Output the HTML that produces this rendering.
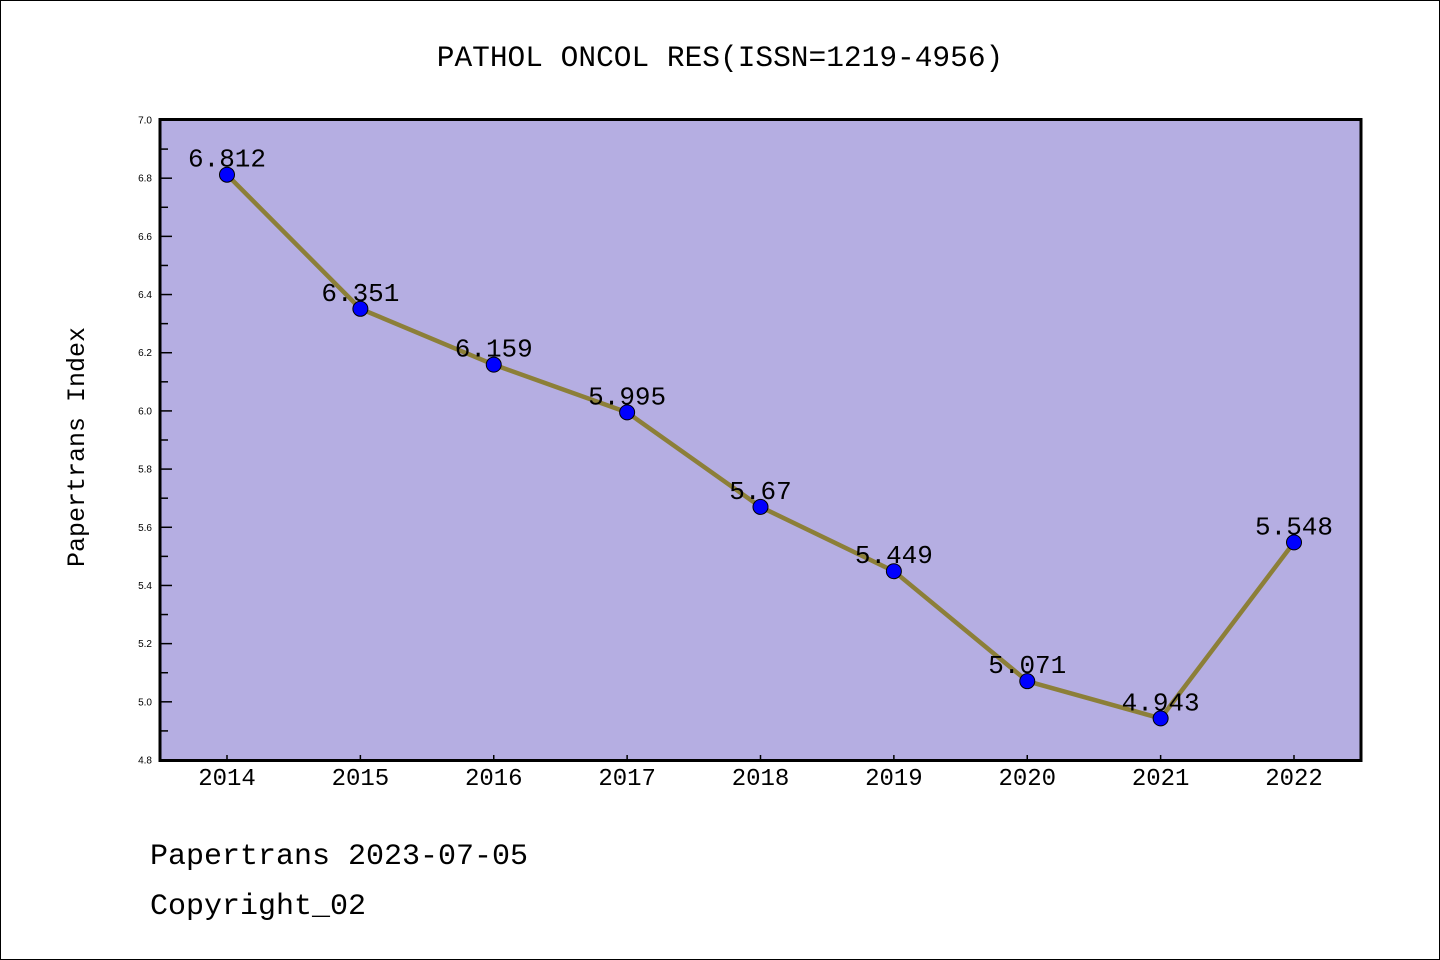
<!DOCTYPE html>
<html><head><meta charset="utf-8"><style>
html,body{margin:0;padding:0;background:#fff}
svg{display:block;font-family:"Liberation Mono",monospace}
</style></head><body>
<svg id="c" width="1440" height="960" viewBox="0 0 1440 960">
<rect x="0.5" y="0.5" width="1439" height="959" fill="#fff" stroke="#000"/>
<text x="720" y="66" text-anchor="middle" font-size="29.5">PATHOL ONCOL RES(ISSN=1219-4956)</text>
<rect x="160" y="119.5" width="1201" height="641" fill="#b5aee2"/>
<g id="axes"></g>
<g id="series"></g>
<rect x="160" y="119.5" width="1201" height="641" fill="none" stroke="#000" stroke-width="3"/>
<text transform="translate(84,447) rotate(-90)" text-anchor="middle" font-size="25">Papertrans Index</text>
<text x="150" y="864" font-size="30">Papertrans 2023-07-05</text>
<text x="150" y="914" font-size="30">Copyright_02</text>
</svg>
<script>
const years = [2014,2015,2016,2017,2018,2019,2020,2021,2022];
const values = [6.812,6.351,6.159,5.995,5.67,5.449,5.071,4.943,5.548];
const valueLabels = ["6.812","6.351","6.159","5.995","5.67","5.449","5.071","4.943","5.548"];
const yTicks = [4.8,5.0,5.2,5.4,5.6,5.8,6.0,6.2,6.4,6.6,6.8,7.0];
const yMinor = [4.9,5.1,5.3,5.5,5.7,5.9,6.1,6.3,6.5,6.7,6.9];
const NS='http://www.w3.org/2000/svg';
function X(i){return 227+(1294-227)*i/(years.length-1);}
function Y(v){return 760-(v-4.8)/(7.0-4.8)*640;}
function mk(t,a,p){const e=document.createElementNS(NS,t);for(const k in a)e.setAttribute(k,a[k]);p.appendChild(e);return e;}
const ax=document.getElementById('axes'), se=document.getElementById('series');
yTicks.forEach(v=>{
  const l=mk('line',{x1:160,x2:172,y1:Y(v),y2:Y(v),stroke:'#000','stroke-width':1.5},ax);
  
  
  const t=mk('text',{x:152,y:Y(v)+3.5,'text-anchor':'end','font-size':10,'font-family':'Liberation Sans, sans-serif'},ax);
  t.textContent=v.toFixed(1);
  
  
});
yMinor.forEach(v=>{
  const l=mk('line',{x1:160,x2:168,y1:Y(v),y2:Y(v),stroke:'#000','stroke-width':1.5},ax);
  
  
});
years.forEach((y,i)=>{
  const l=mk('line',{x1:X(i),x2:X(i),y1:760,y2:755,stroke:'#000','stroke-width':1.5},ax);
  
  
  const t=mk('text',{x:X(i),y:785,'text-anchor':'middle','font-size':24},ax);
  t.textContent=y;
  
  
});
const pl=mk('polyline',{points:values.map((v,i)=>X(i)+','+Y(v)).join(' '),fill:'none',stroke:'#8c7f38','stroke-width':4.5,'stroke-linejoin':'round'},se);


values.forEach((v,i)=>{
  const c=mk('circle',{cx:X(i),cy:Y(v),r:7.5,fill:'#0000ff',stroke:'#000','stroke-width':1},se);
  
  
  const t=mk('text',{x:X(i),y:Y(v)-8,'text-anchor':'middle','font-size':26,fill:'#000'},se);
  t.textContent=valueLabels[i];
  
  
});
</script>
</body></html>
